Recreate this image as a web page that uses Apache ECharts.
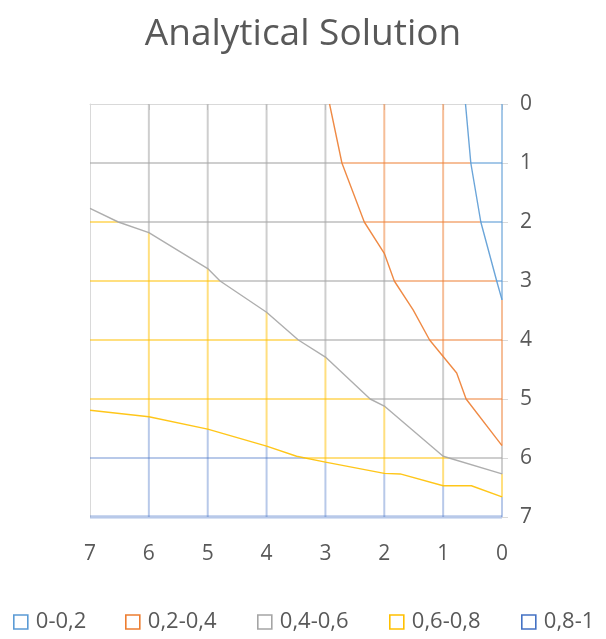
<!DOCTYPE html>
<html>
<head>
<meta charset="utf-8">
<script src="https://cdn.jsdelivr.net/npm/echarts@6/dist/echarts.min.js"></script>
<style>html,body{margin:0;padding:0;background:#fff}#c{width:606px;height:639px}</style>
</head>
<body>
<div id="c"></div>
<script>
// ---- data ----
const titleText = 'Analytical Solution';
const xTicks = [0, 1, 2, 3, 4, 5, 6, 7];
const yTicks = [0, 1, 2, 3, 4, 5, 6, 7];
const bandNames = ['0-0,2', '0,2-0,4', '0,4-0,6', '0,6-0,8', '0,8-1'];
const bandColors = ['#5B9BD5', '#ED7D31', '#A5A5A5', '#FFC000', '#4472C4'];
// contour polylines [x, y], x descending / y ascending
const contour02 = [[0.62, 0], [0.53, 1], [0.36, 2], [0.09, 3], [0, 3.32]];
const contour04 = [[2.93, 0], [2.72, 1], [2.34, 2], [2.0, 2.53], [1.83, 3], [1.51, 3.49], [1.23, 4], [1.0, 4.28], [0.77, 4.56], [0.61, 5], [0, 5.79]];
const contour06 = [[7, 1.77], [6.52, 2], [6, 2.18], [5, 2.79], [4.79, 3], [4, 3.53], [3.46, 4], [3, 4.29], [2.24, 5], [2, 5.12], [1, 5.97], [0, 6.27]];
const contour08 = [[7, 5.19], [6, 5.30], [5, 5.51], [4, 5.80], [3.49, 5.97], [3, 6.07], [2, 6.26], [1.73, 6.27], [1, 6.47], [0.52, 6.47], [0, 6.66]];
const contours = [contour02, contour04, contour06, contour08];

const FONT = 'Open Sans';
const TXT = '#595959';
const gridOpacity = [0.55, 0.5, 0.55, 0.5, 0.38];
const xMin = xTicks[0], xMax = xTicks[xTicks.length - 1];
const yMin = yTicks[0], yMax = yTicks[yTicks.length - 1];

function yAt(c, x) {
  if (x > c[0][0]) return -Infinity;
  for (let i = 0; i < c.length - 1; i++) {
    const [x1, y1] = c[i], [x2, y2] = c[i + 1];
    if (x <= x1 && x >= x2) return x1 === x2 ? y1 : y1 + (y2 - y1) * (x1 - x) / (x1 - x2);
  }
  return Infinity;
}
function xAt(c, y) {
  if (y < c[0][1] || y > c[c.length - 1][1]) return null;
  for (let i = 0; i < c.length - 1; i++) {
    const [x1, y1] = c[i], [x2, y2] = c[i + 1];
    if (y >= y1 && y <= y2 && y2 > y1) return x1 + (x2 - x1) * (y - y1) / (y2 - y1);
  }
  return null;
}
function band(x, y) {
  let b = 0;
  contours.forEach(c => { if (y > yAt(c, x)) b++; });
  return b;
}

const series = [];
function addSeg(p1, p2, b, w) {
  series.push({
    type: 'line', name: bandNames[b], data: [p1, p2], symbol: 'none', silent: true,
    color: bandColors[b],
    lineStyle: { color: bandColors[b], width: w, opacity: gridOpacity[b] }, z: 2
  });
}
// vertical grid lines (left edge x=xMax drawn by axis line)
xTicks.forEach(k => {
  if (k === xMax) return;
  const bp = [yMin, yMax];
  contours.forEach(c => { const v = yAt(c, k); if (v > yMin && v < yMax) bp.push(v); });
  bp.sort((a, b) => a - b);
  for (let i = 0; i < bp.length - 1; i++) {
    addSeg([k, bp[i]], [k, bp[i + 1]], band(k, (bp[i] + bp[i + 1]) / 2), 2);
  }
});
// horizontal grid lines (top edge y=yMin drawn by axis line)
yTicks.forEach(k => {
  if (k === yMin) return;
  const bp = [xMin, xMax];
  contours.forEach(c => { const v = xAt(c, k); if (v !== null && v > xMin && v < xMax) bp.push(v); });
  bp.sort((a, b) => a - b);
  for (let i = 0; i < bp.length - 1; i++) {
    addSeg([bp[i], k], [bp[i + 1], k], band((bp[i] + bp[i + 1]) / 2, k), k === yMax ? 3.5 : 2);
  }
});
// contour lines
contours.forEach((c, i) => {
  series.push({
    type: 'line', name: 'contour' + i, data: c, symbol: 'none', silent: true,
    lineStyle: { color: bandColors[i], width: 1.4, opacity: 0.9 }, z: 5
  });
});

const legendLefts = [13, 125, 257, 389, 521];
const legends = bandNames.map((n, i) => ({
  data: [{ name: n, icon: 'rect', itemStyle: { color: '#ffffff', borderColor: bandColors[i], borderWidth: 1.6, opacity: 1 } }],
  left: legendLefts[i], top: 611, padding: 0, itemWidth: 14, itemHeight: 14, itemGap: 0,
  selectedMode: false,
  textStyle: { fontSize: 22, color: TXT, fontFamily: FONT, padding: [0, 0, 0, 3] }
}));

const axisLbl = { fontSize: 21, color: TXT, fontFamily: FONT };
const chart = echarts.init(document.getElementById('c'), null, { renderer: 'canvas' });
chart.setOption({
  animation: false,
  backgroundColor: '#ffffff',
  title: {
    text: titleText, left: 'center', top: 11,
    textStyle: { fontSize: 37, fontWeight: 'normal', color: TXT, fontFamily: FONT }
  },
  legend: legends,
  grid: { left: 90, right: 104, top: 104, bottom: 122 },
  xAxis: [
    {
      type: 'value', min: xMin, max: xMax, interval: 1, inverse: true, position: 'bottom',
      axisLine: { show: false },
      axisTick: { show: true, length: 6, lineStyle: { color: '#d9d9d9' } },
      axisLabel: Object.assign({ margin: 27 }, axisLbl),
      splitLine: { show: false }
    },
    {
      type: 'value', min: xMin, max: xMax, interval: 1, inverse: true, position: 'top',
      axisLine: { show: true, onZero: false, lineStyle: { color: '#d9d9d9', width: 1 } },
      axisTick: { show: false }, axisLabel: { show: false }, splitLine: { show: false }
    }
  ],
  yAxis: [
    {
      type: 'value', min: yMin, max: yMax, interval: 1, inverse: true, position: 'right',
      axisLine: { show: false },
      axisTick: { show: true, length: 6, lineStyle: { color: '#d9d9d9' } },
      axisLabel: Object.assign({ margin: 18 }, axisLbl),
      splitLine: { show: false }
    },
    {
      type: 'value', min: yMin, max: yMax, interval: 1, inverse: true, position: 'left',
      axisLine: { show: true, onZero: false, lineStyle: { color: '#d9d9d9', width: 1 } },
      axisTick: { show: false }, axisLabel: { show: false }, splitLine: { show: false }
    }
  ],
  series: series
});
</script>
</body>
</html>
